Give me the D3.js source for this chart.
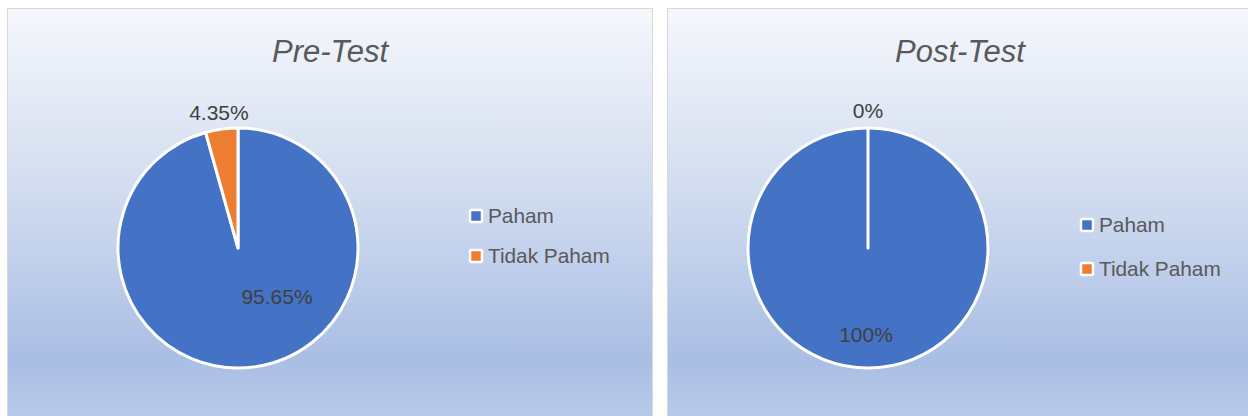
<!DOCTYPE html>
<html>
<head>
<meta charset="utf-8">
<script src="https://cdn.jsdelivr.net/npm/d3@7"></script>
<style>
  body { margin: 0; background: #fff; }
  svg { display: block; font-family: "Liberation Sans", Arial, sans-serif; }
</style>
</head>
<body>
<svg id="chart" width="1248" height="416"></svg>
<script>
// data
var categories = ["Paham", "Tidak Paham"];
var titles = ["Pre-Test", "Post-Test"];
var preValues = [95.65, 4.35];
var postValues = [100, 0];
var labelTexts = [["95.65%", "4.35%"], ["100%", "0%"]];

var width = 1248, height = 416;
var color = d3.scaleOrdinal().domain(categories).range(["#4472c4", "#ed7d31"]);

var svg = d3.select("#chart");

// background gradient like Excel
var defs = svg.append("defs");
var grad = defs.append("linearGradient")
  .attr("id", "bg").attr("x1", 0).attr("y1", 0).attr("x2", 0).attr("y2", 1);
grad.append("stop").attr("offset", "0%").attr("stop-color", "#f5f7fc");
grad.append("stop").attr("offset", "40%").attr("stop-color", "#d3ddf0");
grad.append("stop").attr("offset", "80%").attr("stop-color", "#a9bee4");
grad.append("stop").attr("offset", "100%").attr("stop-color", "#c2d2ee");

var panels = [
  { x: 7, w: 645, title: titles[0], values: preValues, labels: labelTexts[0],
    cx: 238, titleX: 330, legendX: 470, legendY: [216, 256],
    inside: [39, 49] },
  { x: 667, w: 600, title: titles[1], values: postValues, labels: labelTexts[1],
    cx: 868, titleX: 960, legendX: 1081, legendY: [225, 269],
    inside: [-2, 87] }
];

var radius = 120;
var pie = d3.pie().sort(null).value(d => d);
var arc = d3.arc().innerRadius(0).outerRadius(radius);
var outerArc = d3.arc().innerRadius(radius + 20).outerRadius(radius + 20);

panels.forEach(function(p) {
  var g = svg.append("g");
  g.append("rect")
    .attr("x", p.x + 0.5).attr("y", 8.5)
    .attr("width", p.w).attr("height", 440)
    .attr("fill", "url(#bg)")
    .attr("stroke", "#d9d9d9");

  g.append("text")
    .attr("x", p.titleX).attr("y", 62)
    .attr("text-anchor", "middle")
    .attr("font-size", 31)
    .attr("font-style", "italic")
    .attr("fill", "#595959")
    .text(p.title);

  var arcs = pie(p.values);
  var pg = g.append("g").attr("transform", `translate(${p.cx},248)`);
  pg.selectAll("path")
    .data(arcs)
    .enter()
    .append("path")
    .attr("d", arc)
    .attr("fill", (d, i) => color(categories[i]))
    .attr("stroke", "#fff")
    .attr("stroke-width", 3)
    .attr("stroke-linejoin", "round");

  // labels: first slice inside, second slice outside
  pg.selectAll("text.lbl")
    .data(arcs)
    .enter()
    .append("text")
    .attr("class", "lbl")
    .attr("text-anchor", "middle")
    .attr("dy", "0.35em")
    .attr("font-size", 21)
    .attr("fill", "#404040")
    .attr("transform", function(d, i) {
      if (i === 0) return `translate(${p.inside[0]},${p.inside[1]})`;
      var c = outerArc.centroid(d);
      return `translate(${c[0]},${c[1] + 3})`;
    })
    .text((d, i) => p.labels[i]);

  // legend
  var lg = g.selectAll("g.leg")
    .data(categories)
    .enter()
    .append("g")
    .attr("class", "leg")
    .attr("transform", (d, i) => `translate(${p.legendX},${p.legendY[i]})`);
  lg.append("rect")
    .attr("x", 0).attr("y", -6)
    .attr("width", 12).attr("height", 12)
    .attr("rx", 1.5)
    .attr("fill", d => color(d))
    .attr("stroke", "#fff")
    .attr("stroke-width", 2.5);
  lg.append("text")
    .attr("x", 18).attr("y", 0)
    .attr("dy", "0.35em")
    .attr("font-size", 20.8)
    .attr("fill", "#595959")
    .text(d => d);
});
</script>
</body>
</html>
